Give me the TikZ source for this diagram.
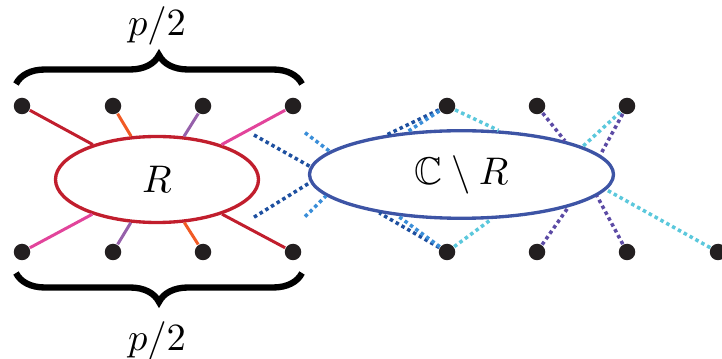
\documentclass[tikz,border=0pt]{standalone}
\usepackage{amssymb}
\usetikzlibrary{shapes.geometric,decorations.pathreplacing}
\definecolor{rred}{RGB}{193,30,45}
\definecolor{rorange}{RGB}{241,90,36}
\definecolor{rpurple}{RGB}{150,96,170}
\definecolor{rpink}{RGB}{226,68,155}
\definecolor{dblue}{RGB}{30,80,160}
\definecolor{mblue}{RGB}{58,142,216}
\definecolor{cblue}{RGB}{91,200,220}
\definecolor{vpurple}{RGB}{92,75,165}
\definecolor{eblue}{RGB}{61,84,165}
\definecolor{vblack}{RGB}{35,31,32}
\begin{document}
\begin{tikzpicture}[
		font=\fontsize{11}{13}\selectfont,
		vert/.style={circle,fill=vblack,inner sep=0pt,minimum size=1.65mm},
		edge/.style={line width=0.85pt},
		dedge/.style={line width=1pt,dash pattern=on 1pt off 0.9pt},
		pbrace/.style={decorate,line width=1.8pt}
	]
		\useasboundingbox (0,0) rectangle (7.22,3.58);
		\node[ellipse,draw=rred,line width=0.95pt,minimum width=2.03cm,minimum height=0.86cm] (R) at (1.57,1.785) {$R$};
		\node[ellipse,draw=eblue,line width=0.95pt,minimum width=3.04cm,minimum height=0.83cm] (C) at (4.615,1.835) {$\mathbb{C}\setminus R$};
		% vertices
		\foreach \i/\x in {1/0.22,2/1.13,3/2.03,4/2.93} {
			\node[vert] (t\i) at (\x,2.52) {};
			\node[vert] (b\i) at (\x,1.06) {};
		}
		\foreach \i/\x in {1/4.47,2/5.37,3/6.27} {
			\node[vert] (u\i) at (\x,2.52) {};
		}
		\foreach \i/\x in {1/4.47,2/5.37,3/6.27,4/7.18} {
			\node[vert] (d\i) at (\x,1.06) {};
		}
		% edges into R
		\foreach \v/\c in {t1/rred,t2/rorange,t3/rpurple,t4/rpink,b1/rpink,b2/rpurple,b3/rorange,b4/rred} {
			\draw[edge,\c] (\v) -- (R);
		}
		% edges into C minus R
		\coordinate (ka) at (2.54,2.23);
		\coordinate (kb) at (2.54,1.408);
		\coordinate (kc) at (3.05,2.253);
		\coordinate (kd) at (3.05,1.413);
		\draw[dedge,dblue] (ka) -- (C.177.8);
		\draw[dedge,dblue] (kb) -- (C.183.6);
		\draw[dedge,mblue] (kc) -- (C.170.8);
		\draw[dedge,mblue] (kd) -- (C.189.6);
		\draw[dedge,dblue] (u1) -- (C.152.5);
		\draw[dedge,mblue] (u1) -- (C.142.4);
		\draw[dedge,cblue] (u1) -- (C.50.4);
		\draw[dedge,dblue] (d1) -- (C.205);
		\draw[dedge,mblue] (d1) -- (C.213.3);
		\draw[dedge,cblue] (d1) -- (C.-56.3);
		\draw[dedge,vpurple] (u2) -- (C.18.9);
		\draw[dedge,cblue] (u3) -- (C.13.9);
		\draw[dedge,vpurple] (u3) -- (C.8.3);
		\draw[dedge,vpurple] (d2) -- (C.-17.5);
		\draw[dedge,vpurple] (d3) -- (C.-9.6);
		\draw[dedge,cblue] (d4) -- (C.-6.7);
		% braces
		\coordinate (bl) at (0.16,2.74);
		\coordinate (br) at (3.02,2.74);
		\coordinate (cl) at (0.16,0.85);
		\coordinate (cr) at (3.02,0.85);
		\draw[pbrace,decoration={brace,amplitude=0.29cm}] (bl) -- (br);
		\draw[pbrace,decoration={brace,mirror,amplitude=0.29cm}] (cl) -- (cr);
		\node (ptop) at (1.57,3.32) {$p/2$};
		\node (pbot) at (1.57,0.17) {$p/2$};
	\end{tikzpicture}
\end{document}
